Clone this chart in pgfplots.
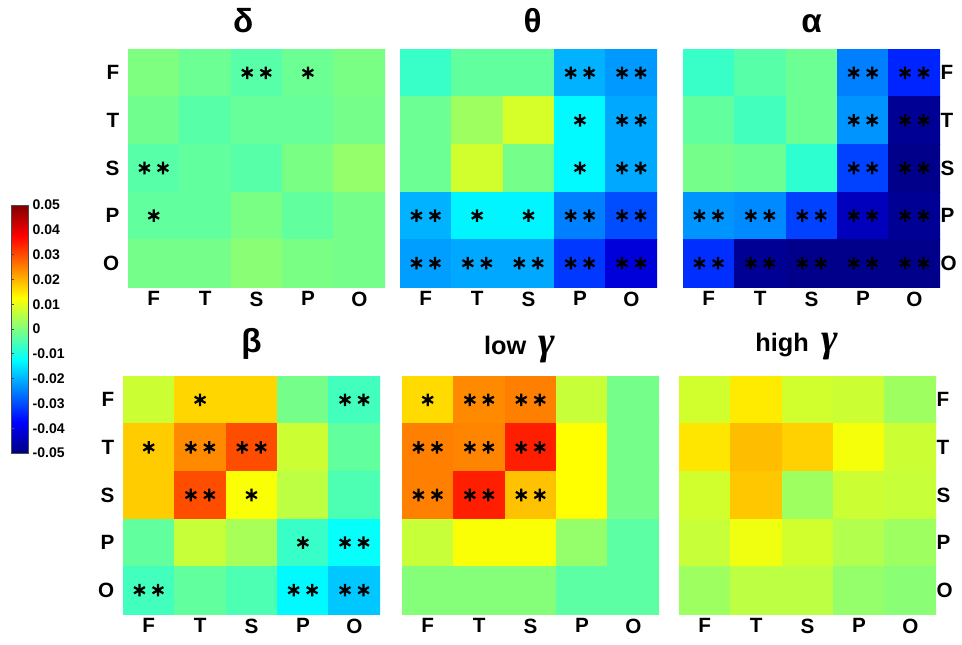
\documentclass[border=0pt]{standalone}
\usepackage{pgfplots}
\pgfplotsset{compat=1.18}
\usepackage{pgfplotstable}
\usepackage{fontspec}
\setmainfont{Liberation Sans}
\newfontfamily\serifit{Liberation Serif}
\usetikzlibrary{plotmarks}

% values: rows F,T,S,P,O (y = 0..4, top to bottom), columns F,T,S,P,O (x = 0..4)
\pgfplotstableread{
x y c
0 0 0.000
1 0 -0.002
2 0 -0.004
3 0 -0.002
4 0 -0.0005
0 1 -0.0015
1 1 -0.004
2 1 -0.0025
3 1 -0.0025
4 1 -0.001
0 2 -0.004
1 2 -0.003
2 2 -0.004
3 2 -0.0005
4 2 0.002
0 3 -0.003
1 3 -0.003
2 3 -0.0005
3 3 -0.003
4 3 -0.001
0 4 -0.001
1 4 -0.001
2 4 0.001
3 4 -0.0005
4 4 -0.001
}\tabDelta

\pgfplotstableread{
x y c
0 0 -0.007
1 0 -0.003
2 0 -0.003
3 0 -0.020
4 0 -0.0225
0 1 -0.002
1 1 0.003
2 1 0.0085
3 1 -0.013
4 1 -0.021
0 2 -0.002
1 2 0.008
2 2 -0.001
3 2 -0.013
4 2 -0.021
0 3 -0.020
1 3 -0.0135
2 3 -0.0135
3 3 -0.025
4 3 -0.030
0 4 -0.022
1 4 -0.021
2 4 -0.021
3 4 -0.032
4 4 -0.041
}\tabTheta

\pgfplotstableread{
x y c
0 0 -0.007
1 0 -0.004
2 0 -0.002
3 0 -0.025
4 0 -0.034
0 1 -0.003
1 1 -0.006
2 1 -0.002
3 1 -0.023
4 1 -0.048
0 2 -0.001
1 2 -0.002
2 2 -0.008
3 2 -0.031
4 2 -0.049
0 3 -0.023
1 3 -0.024
2 3 -0.031
3 3 -0.044
4 3 -0.048
0 4 -0.033
1 4 -0.048
2 4 -0.049
3 4 -0.049
4 4 -0.049
}\tabAlpha

\pgfplotstableread{
x y c
0 0 0.0075
1 0 0.0165
2 0 0.0165
3 0 -0.001
4 0 -0.006
0 1 0.0175
1 1 0.024
2 1 0.030
3 1 0.0075
4 1 -0.003
0 2 0.0175
1 2 0.030
2 2 0.012
3 2 0.006
4 2 -0.005
0 3 -0.003
1 3 0.007
2 3 0.004
3 3 -0.007
4 3 -0.012
0 4 -0.006
1 4 -0.003
2 4 -0.005
3 4 -0.013
4 4 -0.018
}\tabBeta

\pgfplotstableread{
x y c
0 0 0.016
1 0 0.024
2 0 0.025
3 0 0.007
4 0 -0.001
0 1 0.025
1 1 0.0245
2 1 0.0345
3 1 0.0125
4 1 -0.001
0 2 0.025
1 2 0.0345
2 2 0.0185
3 2 0.0125
4 2 -0.001
0 3 0.007
1 3 0.012
2 3 0.012
3 3 0.002
4 3 -0.0035
0 4 0.0005
1 4 0.0005
2 4 0.0005
3 4 -0.0035
4 4 -0.0035
}\tabLowG

\pgfplotstableread{
x y c
0 0 0.008
1 0 0.0145
2 0 0.008
3 0 0.0075
4 0 0.003
0 1 0.015
1 1 0.019
2 1 0.017
3 1 0.0115
4 1 0.0075
0 2 0.008
1 2 0.018
2 2 0.003
3 2 0.0075
4 2 0.007
0 3 0.007
1 3 0.011
2 3 0.008
3 3 0.005
4 3 0.003
0 4 0.003
1 4 0.006
2 4 0.006
3 4 0.002
4 4 0.001
}\tabHighG

\pgfplotstableread{
x y
0 -0.05
1 -0.05
0 -0.0375
1 -0.0375
0 -0.025
1 -0.025
0 -0.0125
1 -0.0125
0 0
1 0
0 0.0125
1 0.0125
0 0.025
1 0.025
0 0.0375
1 0.0375
0 0.05
1 0.05
}\tabBar

\pgfplotsset{
  hm/.style={
    anchor=north west, scale only axis, width=192.75pt, height=178.5pt,
    enlargelimits=false, xmin=-0.5, xmax=4.5, ymin=-0.5, ymax=4.5,
    y dir=reverse,
    xtick={0,1,2,3,4}, ytick={0,1,2,3,4},
    xticklabels={F,T,S,P,O}, yticklabels={F,T,S,P,O},
    major tick length=0pt, tick style={draw=none}, axis line style={draw=none},
    colormap/jet, point meta min=-0.05, point meta max=0.05,
    tick label style={font=\bfseries\fontsize{15.5}{16}\selectfont},
    yticklabel style={xshift=-3pt},
    title style={font=\bfseries\fontsize{25}{27}\selectfont, at={(0.5,1)}, anchor=base, yshift=6.75pt},
  },
  heat/.style={matrix plot*, mesh/cols=5, point meta=explicit},
  st/.style={only marks, mark=asterisk, mark size=4.7pt, mark options={line width=1.7pt, draw=black, solid}},
}

\begin{document}
\begin{tikzpicture}
\useasboundingbox (0,0) rectangle (721.5pt,-483pt);

% colour bar
\begin{axis}[at={(8.25pt,-153.75pt)}, anchor=north west, scale only axis,
  width=12.75pt, height=186pt, xmin=0, xmax=1, ymin=-0.05, ymax=0.05,
  enlargelimits=false, xtick=\empty, scaled y ticks=false,
  ytick={-0.05,-0.04,-0.03,-0.02,-0.01,0,0.01,0.02,0.03,0.04,0.05},
  yticklabels={-0.05,-0.04,-0.03,-0.02,-0.01,0,0.01,0.02,0.03,0.04,0.05},
  yticklabel pos=right, ytick pos=left, major tick length=2pt,
  tick style={black!70, line width=0.5pt},
  axis line style={black!70, line width=0.5pt},
  colormap/jet, point meta min=-0.05, point meta max=0.05,
  tick label style={font=\bfseries\fontsize{10.5}{11}\selectfont},
  axis on top]
\addplot[surf, shader=interp, mesh/cols=2, point meta=\thisrow{y}] table {\tabBar};
\end{axis}

% delta
\begin{axis}[hm, at={(96pt,-36.75pt)}, title={δ}, title style={xshift=-10pt}]
\addplot[heat] table[meta=c] {\tabDelta};
\addplot[st] coordinates {(1.82,0) (2.18,0) (3,0) (-0.18,2) (0.18,2) (0,3)};
\end{axis}

% theta
\begin{axis}[hm, at={(300pt,-36.75pt)}, title={θ}, ytick=\empty, title style={xshift=3pt}]
\addplot[heat] table[meta=c] {\tabTheta};
\addplot[st] coordinates {(2.82,0) (3.18,0) (3.82,0) (4.18,0)
  (3,1) (3.82,1) (4.18,1)
  (3,2) (3.82,2) (4.18,2)
  (-0.18,3) (0.18,3) (1,3) (2,3) (2.82,3) (3.18,3) (3.82,3) (4.18,3)
  (-0.18,4) (0.18,4) (0.82,4) (1.18,4) (1.82,4) (2.18,4) (2.82,4) (3.18,4) (3.82,4) (4.18,4)};
\end{axis}

% alpha
\begin{axis}[hm, at={(512.25pt,-36.75pt)}, title={α}, yticklabel pos=right, yticklabel style={xshift=0pt}]
\addplot[heat] table[meta=c] {\tabAlpha};
\addplot[st] coordinates {(2.82,0) (3.18,0) (3.82,0) (4.18,0)
  (2.82,1) (3.18,1) (3.82,1) (4.18,1)
  (2.82,2) (3.18,2) (3.82,2) (4.18,2)
  (-0.18,3) (0.18,3) (0.82,3) (1.18,3) (1.82,3) (2.18,3) (2.82,3) (3.18,3) (3.82,3) (4.18,3)
  (-0.18,4) (0.18,4) (0.82,4) (1.18,4) (1.82,4) (2.18,4) (2.82,4) (3.18,4) (3.82,4) (4.18,4)};
\end{axis}

% beta
\begin{axis}[hm, at={(92.25pt,-282pt)}, title={β}, title style={yshift=5pt}]
\addplot[heat] table[meta=c] {\tabBeta};
\addplot[st] coordinates {(1,0) (3.82,0) (4.18,0)
  (0,1) (0.82,1) (1.18,1) (1.82,1) (2.18,1)
  (0.82,2) (1.18,2) (2,2)
  (3,3) (3.82,3) (4.18,3)
  (-0.18,4) (0.18,4) (2.82,4) (3.18,4) (3.82,4) (4.18,4)};
\end{axis}

% low gamma
\begin{axis}[hm, at={(301.5pt,-282pt)}, ytick=\empty,
  title={low\hspace{0.5em}{\serifit\itshape\fontsize{30}{32}\selectfont γ}},
  title style={font=\bfseries\fontsize{19}{21}\selectfont, yshift=3.5pt, xshift=-8pt}]
\addplot[heat] table[meta=c] {\tabLowG};
\addplot[st] coordinates {(0,0) (0.82,0) (1.18,0) (1.82,0) (2.18,0)
  (-0.18,1) (0.18,1) (0.82,1) (1.18,1) (1.82,1) (2.18,1)
  (-0.18,2) (0.18,2) (0.82,2) (1.18,2) (1.82,2) (2.18,2)};
\end{axis}

% high gamma
\begin{axis}[hm, at={(509.25pt,-282pt)}, yticklabel pos=right, yticklabel style={xshift=0pt},
  title={high\hspace{0.5em}{\serifit\itshape\fontsize{30}{32}\selectfont γ}},
  title style={font=\bfseries\fontsize{19}{21}\selectfont, yshift=6pt, xshift=-8pt}]
\addplot[heat] table[meta=c] {\tabHighG};
\end{axis}

\end{tikzpicture}
\end{document}
